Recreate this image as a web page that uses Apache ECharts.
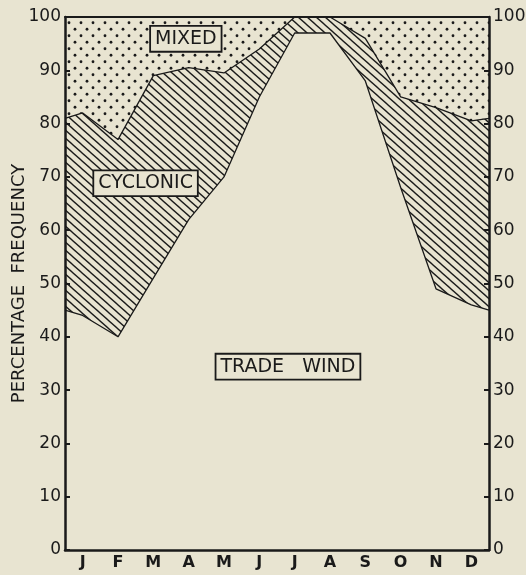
<!DOCTYPE html>
<html>
<head>
<meta charset="utf-8">
<script src="https://cdn.jsdelivr.net/npm/echarts@6/dist/echarts.min.js"></script>
<style>
  html, body { margin: 0; padding: 0; background: #e8e4d1; }
  #chart { width: 526px; height: 575px; }
</style>
</head>
<body>
<div id="chart"></div>
<script>
// ---- data ----
const months = ['J', 'F', 'M', 'A', 'M', 'J', 'J', 'A', 'S', 'O', 'N', 'D'];
// month positions (1 = Jan ... 12 = Dec); 0.5 and 12.5 are the chart edges (Dec/Jan wrap)
const monthPos = [0.5, 1, 2, 3, 4, 5, 6, 7, 8, 9, 10, 11, 12, 12.5];
// percentage frequency of each regime
const tradeWind = [45, 44, 40, 51, 62, 70, 85, 97, 97, 88, 68, 49, 46, 45];
const cyclonic  = [36, 38, 37, 38, 28.5, 19.5, 9, 3, 3, 8, 17, 34, 34.5, 36];
const mixed     = [19, 18, 23, 11, 9.5, 10.5, 6, 0, 0, 4, 15, 17, 19.5, 19];
const yTicks = [0, 10, 20, 30, 40, 50, 60, 70, 80, 90, 100];

// cumulative layers (bottom → top)
const layerTrade = tradeWind.slice();
const layerCyclonic = tradeWind.map((v, i) => v + cyclonic[i]);
const layerMixed = layerCyclonic.map((v, i) => v + mixed[i]);

// ---- styles ----
const BG = '#e8e4d1';
const INK = '#1a1a1a';

function hatchPattern() {
  const w = 9, h = 8;
  const c = document.createElement('canvas');
  c.width = w; c.height = h;
  const ctx = c.getContext('2d');
  ctx.fillStyle = BG; ctx.fillRect(0, 0, w, h);
  ctx.strokeStyle = INK; ctx.lineWidth = 1.35;
  for (const k of [-w, 0, w]) {
    ctx.beginPath();
    ctx.moveTo(k - w * 0.5, -h * 0.5);
    ctx.lineTo(k + w * 1.5, h * 1.5);
    ctx.stroke();
  }
  return c;
}
function dotPattern() {
  const w = 12, h = 13;
  const c = document.createElement('canvas');
  c.width = w; c.height = h;
  const ctx = c.getContext('2d');
  ctx.fillStyle = BG; ctx.fillRect(0, 0, w, h);
  ctx.fillStyle = INK;
  [[3, 3.25], [9, 9.75]].forEach(([x, y]) => {
    ctx.beginPath(); ctx.arc(x, y, 1.4, 0, Math.PI * 2); ctx.fill();
  });
  return c;
}

const pairs = arr => monthPos.map((x, i) => [x, arr[i]]);

const chart = echarts.init(document.getElementById('chart'), null, { renderer: 'canvas' });

const yAxisCommon = {
  type: 'value', min: 0, max: 100, interval: 10, z: 10,
  axisLine: { show: true, lineStyle: { color: INK, width: 2.5 } },
  axisTick: { show: true, inside: true, length: 5, lineStyle: { color: INK, width: 2 } },
  splitLine: { show: false },
  axisLabel: { color: INK, fontSize: 17, fontFamily: 'DejaVu Sans', margin: 4,
    formatter: v => yTicks.includes(v) ? String(v) : '' }
};

chart.setOption({
  backgroundColor: BG,
  animation: false,
  grid: { left: 65, right: 37, top: 17, bottom: 25, containLabel: false, outerBoundsMode: 'none' },
  xAxis: [
    {
      type: 'category', data: months, position: 'bottom', boundaryGap: true, z: 10,
      axisLine: { lineStyle: { color: INK, width: 2.5 } },
      axisTick: { inside: true, alignWithLabel: true, length: 5, lineStyle: { color: INK, width: 2 } },
      axisLabel: { color: INK, fontSize: 16, fontWeight: 'bold', fontFamily: 'DejaVu Sans', margin: 5 }
    },
    {
      type: 'value', min: 0.5, max: 12.5, position: 'top', z: 10,
      axisLine: { show: true, onZero: false, lineStyle: { color: INK, width: 2 } },
      axisTick: { show: false }, axisLabel: { show: false }, splitLine: { show: false }
    }
  ],
  yAxis: [
    Object.assign({}, yAxisCommon, {
      position: 'left',
      name: 'PERCENTAGE  FREQUENCY', nameLocation: 'middle', nameGap: 37, nameRotate: 90,
      nameMoveOverlap: false,
      nameTextStyle: { color: INK, fontSize: 18, fontFamily: 'DejaVu Sans' }
    }),
    Object.assign({}, yAxisCommon, { position: 'right' })
  ],
  series: [
    {
      name: 'Mixed', type: 'line', xAxisIndex: 1, yAxisIndex: 0,
      data: pairs(layerMixed), showSymbol: false, symbol: 'none',
      lineStyle: { width: 0 },
      areaStyle: { color: { image: dotPattern(), repeat: 'repeat' }, opacity: 1 }, z: 1
    },
    {
      name: 'Cyclonic', type: 'line', xAxisIndex: 1, yAxisIndex: 0,
      data: pairs(layerCyclonic), showSymbol: false, symbol: 'none',
      lineStyle: { color: INK, width: 1.3 },
      areaStyle: { color: { image: hatchPattern(), repeat: 'repeat' }, opacity: 1 }, z: 2
    },
    {
      name: 'Trade Wind', type: 'line', xAxisIndex: 1, yAxisIndex: 0,
      data: pairs(layerTrade), showSymbol: false, symbol: 'none',
      lineStyle: { color: INK, width: 1.3 },
      areaStyle: { color: BG, opacity: 1 }, z: 3
    }
  ]
});

// boxed region labels, anchored in data space (month position, percent)
const regionLabels = [
  { text: 'MIXED', at: [3.92, 95.9] },
  { text: 'CYCLONIC', at: [2.78, 68.8] },
  { text: 'TRADE   WIND', at: [6.81, 34.4] }
];
chart.setOption({
  graphic: regionLabels.map(l => {
    const p = chart.convertToPixel({ xAxisIndex: 1, yAxisIndex: 0 }, l.at);
    return {
      type: 'text', x: p[0], y: p[1], z: 50,
      style: {
        text: l.text, font: '19px "DejaVu Sans"', fill: INK,
        align: 'center', verticalAlign: 'middle',
        backgroundColor: BG, borderColor: INK, borderWidth: 1.8,
        padding: [3, 4, 2, 4]
      }
    };
  })
});
</script>
</body>
</html>
